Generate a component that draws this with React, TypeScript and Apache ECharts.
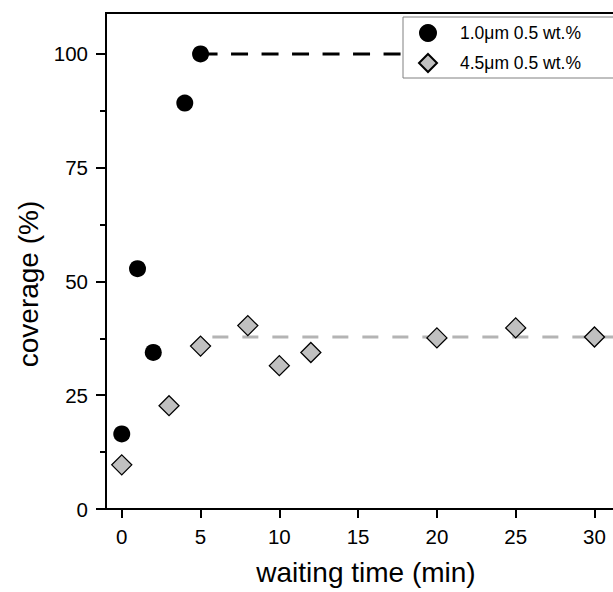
import React, { useEffect, useRef } from "react";
import * as echarts from "echarts";

const seriesNames = ["1.0μm 0.5 wt.%", "4.5μm 0.5 wt.%"];
const timesA = [0, 1, 2, 4, 5];
const coverageA = [16.5, 52.8, 34.4, 89.2, 100];
const timesB = [0, 3, 5, 8, 10, 12, 20, 25, 30];
const coverageB = [9.7, 22.7, 35.8, 40.3, 31.5, 34.4, 37.6, 39.8, 37.8];
const plateauA = { from: 5, to: 32, value: 100 };
const plateauB = { from: 5.75, to: 32, value: 37.8 };
const xTicks = [0, 5, 10, 15, 20, 25, 30];
const yTicks = [0, 25, 50, 75, 100];
const yMinorTicks = [12.5, 37.5, 62.5, 87.5];

const FONT = "Liberation Sans, Arial, Helvetica, sans-serif";

export default function App() {
  const ref = useRef<HTMLDivElement>(null);
  useEffect(() => {
    if (!ref.current) return;
    const chart = echarts.init(ref.current, undefined, { renderer: "svg" });
    const pairs = (xs: number[], ys: number[]) => xs.map((x, i) => [x, ys[i]]);
    chart.setOption({
      animation: false,
      backgroundColor: "#fff",
      textStyle: { fontFamily: FONT },
      grid: {
        left: 106,
        top: 13,
        right: -13,
        bottom: 83,
        show: true,
        borderColor: "#000",
        borderWidth: 2,
        outerBoundsMode: "none",
      },
      legend: {
        data: seriesNames,
        orient: "vertical",
        left: 403,
        top: 17,
        padding: [7, 60, 5, 15],
        itemWidth: 18,
        itemHeight: 18,
        itemGap: 11,
        borderColor: "#808080",
        borderWidth: 1,
        backgroundColor: "#fff",
        textStyle: {
          fontFamily: FONT,
          fontSize: 17.5,
          color: "#000",
          padding: [0, 0, 0, 18],
        },
      },
      xAxis: {
        type: "value",
        min: -1,
        max: 32,
        name: "waiting time (min)",
        nameLocation: "middle",
        nameGap: 49,
        nameTextStyle: { fontFamily: FONT, fontSize: 28, color: "#000" },
        axisLine: { show: true, onZero: false, lineStyle: { color: "#000", width: 2 } },
        axisTick: { show: true, customValues: xTicks, length: 9, lineStyle: { color: "#000", width: 2 } },
        axisLabel: {
          customValues: xTicks,
          fontFamily: FONT,
          fontSize: 20.5,
          color: "#000",
          margin: 17,
        },
        splitLine: { show: false },
      },
      yAxis: [
        {
          type: "value",
          min: 0,
          max: 109,
          position: "left",
          name: "coverage (%)",
          nameLocation: "middle",
          nameGap: 64,
          nameTextStyle: { fontFamily: FONT, fontSize: 28, color: "#000", padding: [0, 46, 0, 0] },
          axisLine: { show: true, onZero: false, lineStyle: { color: "#000", width: 2 } },
          axisTick: { show: true, customValues: yTicks, length: 10, lineStyle: { color: "#000", width: 2 } },
          axisLabel: {
            customValues: yTicks,
            fontFamily: FONT,
            fontSize: 20.5,
            color: "#000",
            margin: 18,
          },
          splitLine: { show: false },
        },
        {
          type: "value",
          min: 0,
          max: 109,
          position: "left",
          axisLine: { show: false, onZero: false },
          axisTick: { show: true, customValues: yMinorTicks, length: 6, lineStyle: { color: "#000", width: 2 } },
          axisLabel: { show: false },
          splitLine: { show: false },
        },
      ],
      series: [
        {
          name: "plateauA",
          type: "line",
          data: [
            [plateauA.from, plateauA.value],
            [plateauA.to, plateauA.value],
          ],
          symbol: "none",
          lineStyle: { color: "#000", width: 3, type: [17, 13.5] },
          z: 1,
          silent: true,
        },
        {
          name: "plateauB",
          type: "line",
          data: [
            [plateauB.from, plateauB.value],
            [plateauB.to, plateauB.value],
          ],
          symbol: "none",
          lineStyle: { color: "#b4b4b4", width: 3, type: [16, 14] },
          z: 1,
          silent: true,
        },
        {
          name: seriesNames[0],
          type: "scatter",
          data: pairs(timesA, coverageA),
          symbol: "circle",
          symbolSize: 17,
          itemStyle: { color: "#000", opacity: 1 },
          z: 3,
        },
        {
          name: seriesNames[1],
          type: "scatter",
          data: pairs(timesB, coverageB),
          symbol: "diamond",
          symbolSize: 20,
          itemStyle: { color: "#c0c0c0", borderColor: "#000", borderWidth: 1.3, opacity: 1 },
          z: 3,
        },
      ],
    });
    return () => chart.dispose();
  }, []);
  return (
    <div
      ref={ref}
      style={{ position: "fixed", left: 0, top: 0, width: 613, height: 592, background: "#fff" }}
    />
  );
}
